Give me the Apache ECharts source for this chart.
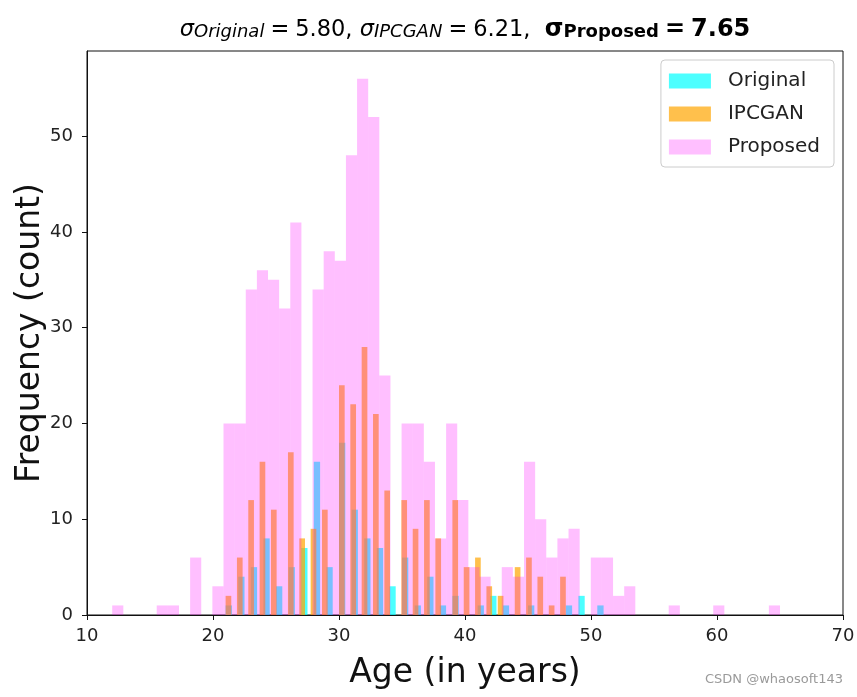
<!DOCTYPE html>
<html><head><meta charset="utf-8">
<script src="https://cdn.jsdelivr.net/npm/echarts@6/dist/echarts.min.js"></script>
<style>html,body{margin:0;padding:0;background:#fff}#c{width:857px;height:697px}</style>
</head><body><div id="c"></div><script>
// ---- data (integer ages and counts, histogrammed with 60 bins each) ----
const originalAges   = [21,22,23,24,25,26,27,28,29,30,31,32,33,34,35,36,37,38,39,40,41,42,43,44,45,46,47,48,49,50,51];
const originalCounts = [ 1, 4, 5, 8, 3, 5, 7,16, 5,18,11, 8, 7, 3, 6, 1, 4, 1, 2, 0, 1, 2, 1, 0, 1, 0, 0, 1, 2, 0, 1];
const ipcganAges     = [21,22,23,24,25,26,27,28,29,30,31,32,33,34,35,36,37,38,39,40,41,42,43,44,45,46,47,48];
const ipcganCounts   = [ 2, 6,12,16,11,17, 8, 9,11,24,22,28,21,13,12, 9,12, 8,12, 5, 6, 3, 2, 5, 6, 4, 1, 4];
const proposedAges   = [12,13,14,15,16,17,18,19,20,21,22,23,24,25,26,27,28,29,30,31,32,33,34,35,36,37,38,39,40,41,42,43,44,45,46,47,48,49,50,51,52,53,54,55,56,57,58,59,60,61,62,63,64,65];
const proposedCounts = [ 1, 0, 0, 0, 1, 1, 0, 6, 3,20,20,34,36,35,32,41,34,38,37,48,56,52,25,20,20,16, 8,20,12, 5, 4, 5, 4,16,10, 6, 8, 9, 6, 6, 2, 3, 0, 0, 0, 1, 0, 0, 1, 0, 0, 0, 0, 1];
const seriesNames = ['Original', 'IPCGAN', 'Proposed'];
const xTicks = [10, 20, 30, 40, 50, 60, 70];
const yTicks = [0, 10, 20, 30, 40, 50];
const NBINS = 60;

function histBars(ages, counts) {
  const lo = Math.min(...ages), hi = Math.max(...ages);
  const out = [];
  ages.forEach((a, i) => {
    if (!counts[i]) return;
    const idx = Math.min(Math.floor((a - lo) * NBINS / (hi - lo)), NBINS - 1);
    out.push([lo + idx * (hi - lo) / NBINS, lo + (idx + 1) * (hi - lo) / NBINS, counts[i]]);
  });
  return out;
}

function renderBar(params, api) {
  const p0 = api.coord([api.value(0), api.value(2)]);
  const p1 = api.coord([api.value(1), 0]);
  return { type: 'rect', shape: { x: p0[0], y: p0[1], width: p1[0] - p0[0], height: p1[1] - p0[1] }, style: api.style() };
}

const colors = ['rgba(0,255,255,0.7)', 'rgba(255,165,0,0.7)', 'rgba(255,0,255,0.25)'];
const datasets = [histBars(originalAges, originalCounts), histBars(ipcganAges, ipcganCounts), histBars(proposedAges, proposedCounts)];

const FONT = 'DejaVu Sans';
const chart = echarts.init(document.getElementById('c'), null, { renderer: 'canvas' });
chart.setOption({
  animation: false,
  backgroundColor: '#fff',
  grid: { left: 87, right: 14, top: 51, bottom: 82, containLabel: false, outerBoundsMode: 'none',
          show: true, borderColor: '#111', borderWidth: 1, backgroundColor: 'transparent' },
  xAxis: {
    type: 'value', min: 10, max: 70, interval: 10,
    name: 'Age (in years)', nameLocation: 'middle', nameGap: 42, nameMoveOverlap: false,
    nameTextStyle: { fontFamily: FONT, fontSize: 33, color: '#111' },
    axisLine: { show: true, lineStyle: { color: '#111', width: 1 } },
    axisTick: { show: true, length: 5, lineStyle: { color: '#111' }, customValues: xTicks },
    axisLabel: { fontFamily: FONT, fontSize: 18, color: '#222', margin: 12, customValues: xTicks },
    splitLine: { show: false }
  },
  yAxis: {
    type: 'value', min: 0, max: 58.9,
    name: 'Frequency (count)', nameLocation: 'middle', nameGap: 40, nameRotate: 90, nameMoveOverlap: false,
    nameTextStyle: { fontFamily: FONT, fontSize: 33, color: '#111' },
    axisLine: { show: true, lineStyle: { color: '#111', width: 1 } },
    axisTick: { show: true, length: 5, lineStyle: { color: '#111' }, customValues: yTicks },
    axisLabel: { fontFamily: FONT, fontSize: 18, color: '#222', margin: 14, customValues: yTicks },
    splitLine: { show: false }
  },
  legend: {
    data: seriesNames, orient: 'vertical', right: 23, top: 60,
    icon: 'rect', itemWidth: 42, itemHeight: 15, itemGap: 13,
    padding: [11, 14, 10, 8],
    backgroundColor: 'rgba(255,255,255,0.8)', borderColor: '#cccccc', borderWidth: 1, borderRadius: 4,
    textStyle: { fontFamily: FONT, fontSize: 20, color: '#222', padding: [0, 0, 0, 12] }
  },
  series: seriesNames.map((n, i) => ({
    type: 'custom', name: n, data: datasets[i], renderItem: renderBar,
    encode: { x: [0, 1], y: 2 }, itemStyle: { color: colors[i] }
  })),
  graphic: [
    {
      type: 'text', x: 465, y: 28,
      style: {
        text: '{m|σ}{sub|Original}{eq|=}{n|5.80, }{m|σ}{sub|IPCGAN}{eq|=}{n|6.21,  }{b|σ}{bsub|Proposed}{beq|=}{b|7.65}',
        align: 'center', verticalAlign: 'middle',
        rich: {
          m: { fontFamily: FONT, fontSize: 22.5, fontStyle: 'italic', color: '#111', lineHeight: 27, verticalAlign: 'bottom' },
          sub: { fontFamily: FONT, fontSize: 18, fontStyle: 'italic', color: '#111', lineHeight: 17, verticalAlign: 'bottom' },
          n: { fontFamily: FONT, fontSize: 22.5, color: '#111', lineHeight: 27, verticalAlign: 'bottom' },
          eq: { fontFamily: FONT, fontSize: 22.5, color: '#111', lineHeight: 27, verticalAlign: 'bottom', padding: [0, 6, 0, 6] },
          b: { fontFamily: FONT, fontSize: 24, fontWeight: 'bold', color: '#111', lineHeight: 27, verticalAlign: 'bottom' },
          beq: { fontFamily: FONT, fontSize: 24, fontWeight: 'bold', color: '#111', lineHeight: 27, verticalAlign: 'bottom', padding: [0, 6, 0, 6] },
          bsub: { fontFamily: FONT, fontSize: 18, fontWeight: 'bold', color: '#111', lineHeight: 17, verticalAlign: 'bottom' }
        }
      }
    },
    {
      type: 'text', x: 843, y: 680,
      style: { text: 'CSDN @whaosoft143', align: 'right', verticalAlign: 'middle', fontFamily: FONT, fontSize: 13, fill: '#9a9a9a' }
    }
  ]
});
</script></body></html>
